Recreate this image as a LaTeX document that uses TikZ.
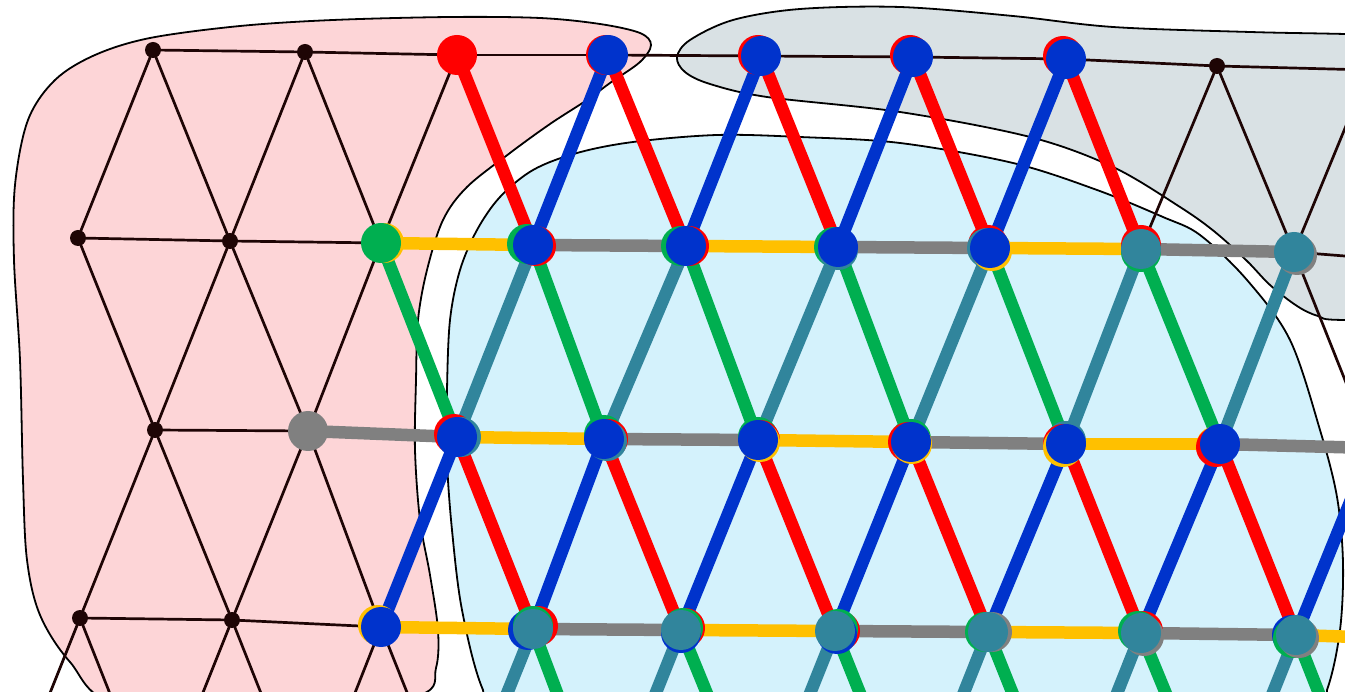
\documentclass[tikz,border=0pt]{standalone}
\definecolor{cRed}{HTML}{FF0000}
\definecolor{cBlue}{HTML}{0033CC}
\definecolor{cGreen}{HTML}{00AF50}
\definecolor{cYellow}{HTML}{FFC000}
\definecolor{cGray}{HTML}{808080}
\definecolor{cTeal}{HTML}{31859C}
\definecolor{linec}{HTML}{1E0505}
\definecolor{pinkF}{HTML}{FDD5D7}
\definecolor{grayF}{HTML}{D9E1E4}
\definecolor{blueF}{HTML}{D4F2FC}
\tikzset{
  thinedge/.style={line width=2.7pt, draw=linec},
  fatedge/.style={line width=12.5pt},
  bignode/.style={circle, inner sep=0pt, minimum size=40pt},
  dotnode/.style={circle, fill=linec, inner sep=0pt, minimum size=16pt},
  blob/.style={draw=black, line width=1.8pt},
}
\newcommand{\lay}[4]{\node[bignode, fill=#1, xshift=#2pt, yshift=#3pt] (#4-#1) at (#4) {};}
\begin{document}
\begin{tikzpicture}[x=1pt,y=-1pt]
\useasboundingbox (0,0) rectangle (1345,692);
\clip (0,0) rectangle (1345,692);
\fill[white] (0,0) rectangle (1345,692);

% blobs
\draw[blob, fill=pinkF] plot[smooth cycle, tension=0.55] coordinates {
 (150,38) (240,26) (333,20) (450,17) (540,18) (600,24) (640,33) (651,45) (640,62)
 (610,83) (587,100) (550,124) (510,153) (467,187) (443,220) (427,270) (418,320)
 (416,380) (415,450) (420,520) (430,575) (438,630) (436,668) (420,695) (300,715)
 (120,705) (70,662) (40,615) (27,560) (23,480) (20,360) (14,260) (15,185) (28,120)
 (55,80) (95,55)};
\draw[blob, fill=grayF] plot[smooth cycle, tension=0.55] coordinates {
 (677,57) (690,40) (733,20) (800,9) (900,7) (1013,16) (1113,27) (1250,32) (1345,34)
 (1500,38) (1500,318) (1345,320) (1318,316) (1297,306) (1270,285) (1247,261)
 (1215,232) (1180,207) (1113,167) (1030,137) (900,112) (767,97) (710,84) (685,72)};
\draw[blob, fill=blueF] plot[smooth cycle, tension=0.55] coordinates {
 (447,390) (450,320) (460,270) (477,230) (500,197) (533,170) (577,153) (633,142)
 (717,135) (800,137) (900,143) (1013,163) (1097,190) (1163,217) (1200,235)
 (1247,280) (1290,340) (1320,430) (1337,497) (1343,563) (1340,630) (1327,690)
 (1300,745) (520,745) (483,690) (462,610) (452,530) (447,460)};

% lattice positions
\coordinate (a0-0) at (153,50);  \coordinate (a0-1) at (305,52);
\coordinate (a0-2) at (457,55);  \coordinate (a0-3) at (608,55);
\coordinate (a0-4) at (761,56);  \coordinate (a0-5) at (913,57);
\coordinate (a0-6) at (1066,59); \coordinate (a0-7) at (1217,66);
\coordinate (a0-8) at (1369,70);

\coordinate (a1-0) at (78,238);  \coordinate (a1-1) at (230,241);
\coordinate (a1-2) at (381,243); \coordinate (a1-3) at (533,245);
\coordinate (a1-4) at (686,246); \coordinate (a1-5) at (838,247);
\coordinate (a1-6) at (990,248); \coordinate (a1-7) at (1141,249);
\coordinate (a1-8) at (1294,252); \coordinate (a1-9) at (1446,264);

\coordinate (a2-0) at (155,430); \coordinate (a2-1) at (308,431);
\coordinate (a2-2) at (457,437); \coordinate (a2-3) at (604,439);
\coordinate (a2-4) at (758,440); \coordinate (a2-5) at (911,442);
\coordinate (a2-6) at (1066,444); \coordinate (a2-7) at (1220,444);
\coordinate (a2-8) at (1372,448);

\coordinate (a3-0) at (80,618);  \coordinate (a3-1) at (232,620);
\coordinate (a3-2) at (381,627); \coordinate (a3-3) at (533,629);
\coordinate (a3-4) at (681,630); \coordinate (a3-5) at (835,631);
\coordinate (a3-6) at (988,632); \coordinate (a3-7) at (1141,633);
\coordinate (a3-8) at (1296,635); \coordinate (a3-9) at (1448,640);

\coordinate (a4-0) at (4,808);   \coordinate (a4-1) at (156,810);
\coordinate (a4-2) at (308,812); \coordinate (a4-3) at (457,818);
\coordinate (a4-4) at (605,820); \coordinate (a4-5) at (759,821);
\coordinate (a4-6) at (912,823); \coordinate (a4-7) at (1065,824);
\coordinate (a4-8) at (1220,825); \coordinate (a4-9) at (1372,828);

% thin black lattice
\foreach \j in {0,...,7}{\pgfmathtruncatemacro\k{\j+1}
  \draw[thinedge] (a0-\j) -- (a0-\k);
  \draw[thinedge] (a2-\j) -- (a2-\k);}
\foreach \j in {0,...,8}{\pgfmathtruncatemacro\k{\j+1}
  \draw[thinedge] (a0-\j) -- (a1-\j);
  \draw[thinedge] (a0-\j) -- (a1-\k);
  \draw[thinedge] (a1-\j) -- (a1-\k);
  \draw[thinedge] (a1-\j) -- (a2-\j);
  \draw[thinedge] (a1-\k) -- (a2-\j);
  \draw[thinedge] (a2-\j) -- (a3-\j);
  \draw[thinedge] (a2-\j) -- (a3-\k);
  \draw[thinedge] (a3-\j) -- (a3-\k);
  \draw[thinedge] (a3-\j) -- (a4-\j);
  \draw[thinedge] (a3-\j) -- (a4-\k);}

% coloured edges
\foreach \j in {2,...,6}{\pgfmathtruncatemacro\k{\j+1}
  \draw[fatedge, cRed] (a0-\j) -- (a1-\k);}
\foreach \j in {3,...,6}{\draw[fatedge, cBlue] (a0-\j) -- (a1-\j);}
\foreach \j/\c in {2/cYellow,3/cGray,4/cYellow,5/cGray,6/cYellow,7/cGray}{
  \pgfmathtruncatemacro\k{\j+1}
  \draw[fatedge, \c] (a1-\j) -- (a1-\k);}
\foreach \j in {2,...,7}{\pgfmathtruncatemacro\k{\j+1}
  \draw[fatedge, cGreen] (a1-\j) -- (a2-\j);
  \draw[fatedge, cTeal] (a1-\k) -- (a2-\j);}
\foreach \j/\c in {1/cGray,2/cYellow,3/cGray,4/cYellow,5/cGray,6/cYellow,7/cGray}{
  \pgfmathtruncatemacro\k{\j+1}
  \draw[fatedge, \c] (a2-\j) -- (a2-\k);}
\foreach \j in {2,...,8}{\draw[fatedge, cBlue] (a2-\j) -- (a3-\j);}
\foreach \j in {2,...,7}{\pgfmathtruncatemacro\k{\j+1}
  \draw[fatedge, cRed] (a2-\j) -- (a3-\k);}
\foreach \j/\c in {2/cYellow,3/cGray,4/cYellow,5/cGray,6/cYellow,7/cGray,8/cYellow}{
  \pgfmathtruncatemacro\k{\j+1}
  \draw[fatedge, \c] (a3-\j) -- (a3-\k);}
\foreach \j in {3,...,8}{\pgfmathtruncatemacro\k{\j+1}
  \draw[fatedge, cTeal] (a3-\j) -- (a4-\j);
  \draw[fatedge, cGreen] (a3-\j) -- (a4-\k);}

% small black nodes
\foreach \n in {a0-0,a0-1,a0-7,a1-0,a1-1,a2-0,a3-0,a3-1}{
  \node[dotnode] (d-\n) at (\n) {};}

% coloured nodes (stacked discs)
\lay{cRed}{0}{0}{a0-2}
\lay{cRed}{-2}{0}{a0-3}  \lay{cBlue}{0}{0}{a0-3}
\lay{cRed}{-3}{1}{a0-4}  \lay{cBlue}{0}{0}{a0-4}
\lay{cRed}{-3}{2}{a0-5}  \lay{cBlue}{0}{0}{a0-5}
\lay{cRed}{-3}{3}{a0-6}  \lay{cBlue}{0}{0}{a0-6}

\lay{cYellow}{3}{0}{a1-2} \lay{cGreen}{0}{0}{a1-2}
\lay{cGreen}{-6}{1}{a1-3} \lay{cRed}{3}{-1}{a1-3} \lay{cBlue}{0}{0}{a1-3}
\lay{cGreen}{-5}{0}{a1-4} \lay{cRed}{3}{0}{a1-4} \lay{cBlue}{0}{0}{a1-4}
\lay{cGreen}{-4}{0}{a1-5} \lay{cTeal}{0}{-3}{a1-5} \lay{cBlue}{0}{0}{a1-5}
\lay{cRed}{-2}{3}{a1-6} \lay{cTeal}{-3}{0}{a1-6} \lay{cYellow}{2}{-3}{a1-6} \lay{cBlue}{0}{0}{a1-6}
\lay{cRed}{0}{4}{a1-7} \lay{cGreen}{0}{-3}{a1-7} \lay{cTeal}{0}{0}{a1-7}
\lay{cGray}{3}{-3}{a1-8} \lay{cTeal}{0}{0}{a1-8}

\lay{cGray}{0}{0}{a2-1}
\lay{cRed}{-3}{3}{a2-2} \lay{cTeal}{4}{0}{a2-2} \lay{cBlue}{0}{0}{a2-2}
\lay{cGreen}{0}{4}{a2-3} \lay{cRed}{4}{0}{a2-3} \lay{cTeal}{3}{-2}{a2-3} \lay{cBlue}{0}{0}{a2-3}
\lay{cGreen}{0}{3}{a2-4} \lay{cRed}{2}{0}{a2-4} \lay{cYellow}{2}{-2}{a2-4} \lay{cBlue}{0}{0}{a2-4}
\lay{cGreen}{0}{3}{a2-5} \lay{cRed}{-3}{0}{a2-5} \lay{cYellow}{1}{-2}{a2-5} \lay{cBlue}{0}{0}{a2-5}
\lay{cTeal}{0}{3}{a2-6} \lay{cRed}{-3}{0}{a2-6} \lay{cYellow}{-3}{-3}{a2-6} \lay{cBlue}{0}{0}{a2-6}
\lay{cYellow}{-4}{-2}{a2-7} \lay{cRed}{-4}{-3}{a2-7} \lay{cBlue}{0}{0}{a2-7}

\lay{cYellow}{-3}{2}{a3-2} \lay{cBlue}{0}{0}{a3-2}
\lay{cBlue}{-5}{-1}{a3-3} \lay{cRed}{5}{3}{a3-3} \lay{cGreen}{0}{3}{a3-3} \lay{cTeal}{0}{0}{a3-3}
\lay{cRed}{4}{2}{a3-4} \lay{cGreen}{2}{2}{a3-4} \lay{cBlue}{0}{-3}{a3-4} \lay{cTeal}{0}{0}{a3-4}
\lay{cRed}{5}{0}{a3-5} \lay{cGreen}{3}{2}{a3-5} \lay{cBlue}{2}{-3}{a3-5} \lay{cTeal}{0}{0}{a3-5}
\lay{cGreen}{-3}{0}{a3-6} \lay{cGray}{4}{0}{a3-6} \lay{cTeal}{0}{0}{a3-6}
\lay{cRed}{2}{2}{a3-7} \lay{cGreen}{-3}{2}{a3-7} \lay{cGray}{3}{-3}{a3-7} \lay{cTeal}{0}{0}{a3-7}
\lay{cBlue}{-4}{0}{a3-8} \lay{cGreen}{-3}{-3}{a3-8} \lay{cGray}{3}{-3}{a3-8} \lay{cTeal}{0}{0}{a3-8}
\end{tikzpicture}
\end{document}
